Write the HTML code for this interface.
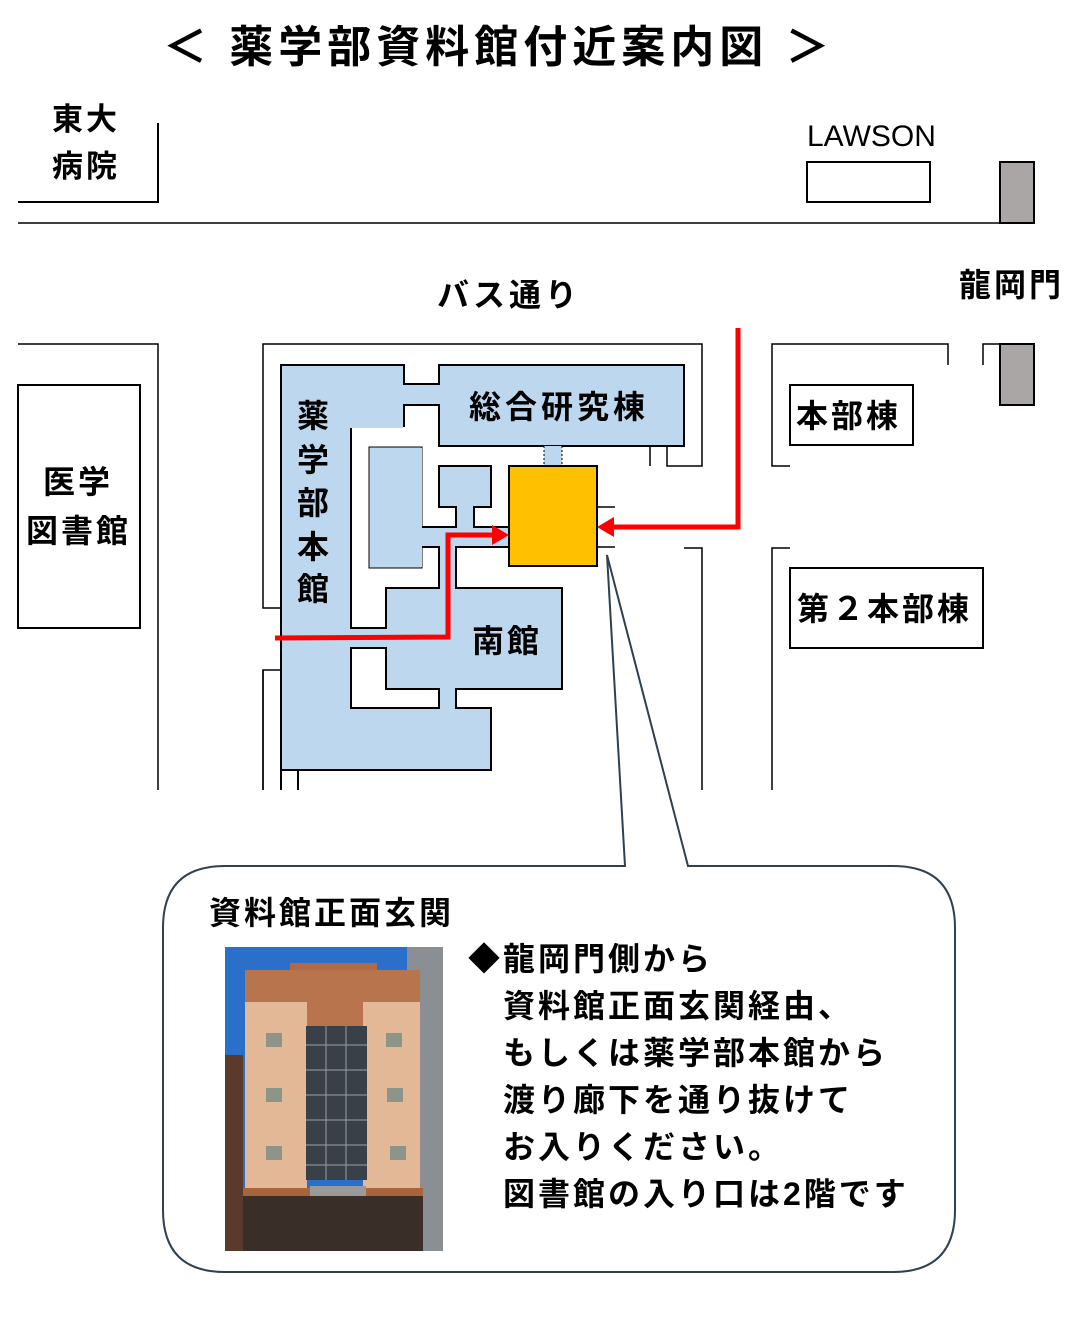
<!DOCTYPE html>
<html><head><meta charset="utf-8"><style>
body{margin:0;background:#fff;width:1090px;height:1319px;overflow:hidden}
svg{display:block}
text{font-family:"Liberation Sans","Noto Sans CJK JP",sans-serif;fill:#000}
.b{letter-spacing:3px}
</style></head><body>
<svg width="1090" height="1319" viewBox="0 0 1090 1319" xmlns="http://www.w3.org/2000/svg">
<text x="163" y="62" font-size="44" font-weight="bold" style="letter-spacing:5px">＜ 薬学部資料館付近案内図 ＞</text>
<g class="b">
<text x="52" y="130" font-size="31" font-weight="bold">東大</text>
<text x="52" y="177" font-size="31" font-weight="bold">病院</text>
</g>
<polyline points="158,123 158,202 18,202" fill="none" stroke="#000" stroke-width="2"/>
<line x1="18" y1="223" x2="1000" y2="223" stroke="#000" stroke-width="1.5"/>
<text x="807" y="146" font-size="30">LAWSON</text>
<rect x="807" y="162" width="123" height="40" fill="#fff" stroke="#000" stroke-width="2"/>
<rect x="1000" y="162" width="34" height="61" fill="#aaa6a6" stroke="#000" stroke-width="2"/>
<text x="437" y="306" font-size="32" font-weight="bold" style="letter-spacing:4px">バス通り</text>
<text x="959" y="296" font-size="32" font-weight="bold" class="b">龍岡門</text>
<polyline points="18,344 158,344 158,790" fill="none" stroke="#000" stroke-width="1.5"/>
<rect x="18" y="385" width="122" height="243" fill="#fff" stroke="#000" stroke-width="2"/>
<text x="43" y="493" font-size="32" font-weight="bold" class="b">医学</text>
<text x="26" y="542" font-size="32" font-weight="bold" class="b">図書館</text>
<polyline points="790,466 772,466 772,344 948,344 948,365" fill="none" stroke="#000" stroke-width="1.5"/>
<polyline points="983,365 983,344 1000,344" fill="none" stroke="#000" stroke-width="1.5"/>
<rect x="1000" y="344" width="34" height="61" fill="#aaa6a6" stroke="#000" stroke-width="2"/>
<rect x="790" y="385" width="123" height="60" fill="#fff" stroke="#000" stroke-width="2"/>
<text x="796" y="427" font-size="32" font-weight="bold" class="b">本部棟</text>
<polyline points="790,548 772,548 772,790" fill="none" stroke="#000" stroke-width="1.5"/>
<rect x="790" y="568" width="193" height="80" fill="#fff" stroke="#000" stroke-width="2"/>
<text x="797" y="620" font-size="32" font-weight="bold" class="b">第２本部棟</text>
<polyline points="281,608 263,608 263,344 702,344 702,466 667,466 667,446" fill="none" stroke="#000" stroke-width="1.5"/>
<polyline points="281,670 263,670 263,790" fill="none" stroke="#000" stroke-width="1.5"/>
<polyline points="650,446 650,466" fill="none" stroke="#000" stroke-width="1.5"/>
<polyline points="684,548 702,548 702,790" fill="none" stroke="#000" stroke-width="1.5"/>
<g fill="#bdd7ee" stroke="#000" stroke-width="2">
<rect x="281" y="365" width="123" height="61"/>
<rect x="439" y="365" width="245" height="81"/>
<rect x="404" y="384" width="35" height="21"/>
<rect x="281" y="426" width="70" height="344"/>
<rect x="439" y="466" width="52" height="41"/>
<rect x="456" y="507" width="18" height="20"/>
<rect x="422" y="527" width="87" height="20"/>
<rect x="439" y="547" width="17" height="41"/>
<rect x="386" y="588" width="176" height="101"/>
<rect x="351" y="628" width="35" height="20"/>
<rect x="439" y="689" width="17" height="19"/>
<rect x="281" y="708" width="210" height="62"/>
</g>
<rect x="369" y="447" width="53" height="121" fill="#bdd7ee" stroke="#000" stroke-width="1"/>
<g fill="#bdd7ee">
<rect x="282" y="366" width="121" height="62"/>
<rect x="403" y="385" width="38" height="19"/>
<rect x="440" y="366" width="243" height="79"/>
<rect x="282" y="420" width="68" height="349"/>
<rect x="440" y="467" width="50" height="39"/>
<rect x="457" y="505" width="16" height="24"/>
<rect x="421" y="528" width="88" height="18"/>
<rect x="440" y="545" width="15" height="45"/>
<rect x="387" y="589" width="174" height="99"/>
<rect x="349" y="629" width="40" height="18"/>
<rect x="440" y="687" width="15" height="23"/>
<rect x="282" y="709" width="208" height="60"/>
<rect x="370" y="448" width="52" height="119"/>
</g>
<line x1="263" y1="790" x2="263" y2="670" stroke="#000" stroke-width="1.5"/>
<line x1="281" y1="670" x2="281" y2="790" stroke="#000" stroke-width="2"/>
<polyline points="298,790 298,770 491,770" fill="none" stroke="#000" stroke-width="2"/>
<line x1="281" y1="608" x2="281" y2="365" stroke="#000" stroke-width="2"/>
<rect x="544" y="446" width="18" height="20" fill="#bdd7ee"/>
<line x1="544" y1="446" x2="544" y2="466" stroke="#000" stroke-width="1" stroke-dasharray="2,2"/>
<line x1="562" y1="446" x2="562" y2="466" stroke="#000" stroke-width="1" stroke-dasharray="2,2"/>
<rect x="509" y="466" width="88" height="100" fill="#ffc000" stroke="#000" stroke-width="2"/>
<line x1="597" y1="507" x2="615" y2="507" stroke="#000" stroke-width="1.5"/>
<line x1="597" y1="547" x2="615" y2="547" stroke="#000" stroke-width="1.5"/>
<g font-size="32" font-weight="bold">
<text x="297" y="427">薬</text><text x="297" y="471">学</text><text x="297" y="514">部</text><text x="297" y="558">本</text><text x="297" y="600">館</text>
</g>
<text x="469" y="418" font-size="32" font-weight="bold" style="letter-spacing:4px">総合研究棟</text>
<text x="472" y="652" font-size="32" font-weight="bold" class="b">南館</text>
<polyline points="738,328 738,527 612,527" fill="none" stroke="#f00" stroke-width="5"/>
<polygon points="597,527 614,517 614,537" fill="#f00"/>
<polyline points="275,638 448,637 448,535 494,535" fill="none" stroke="#f00" stroke-width="5"/>
<polygon points="509,535 492,525 492,545" fill="#f00"/>
<path d="M225,866 L625,866 L607,555 L688,866 L893,866 Q955,866 955,928 L955,1210 Q955,1272 893,1272 L225,1272 Q163,1272 163,1210 L163,928 Q163,866 225,866 Z" fill="#fff" stroke="#2f4050" stroke-width="2"/>
<text x="209" y="924" font-size="32" font-weight="bold" class="b">資料館正面玄関</text>
<g font-size="32" font-weight="bold" class="b">
<text x="468" y="970">◆龍岡門側から</text>
<text x="503" y="1017">資料館正面玄関経由、</text>
<text x="503" y="1064">もしくは薬学部本館から</text>
<text x="503" y="1111">渡り廊下を通り抜けて</text>
<text x="503" y="1158">お入りください。</text>
<text x="503" y="1205">図書館の入り口は2階です</text>
</g>
<g>
<rect x="225" y="947" width="218" height="304" fill="#2a6fc9"/>
<rect x="225" y="1055" width="18" height="196" fill="#5a3a2a"/>
<rect x="407" y="947" width="36" height="304" fill="#8a8f94"/>
<rect x="290" y="963" width="87" height="12" fill="#b06a45"/>
<rect x="245" y="970" width="175" height="32" fill="#b8744d"/>
<rect x="245" y="1002" width="62" height="188" fill="#e3b896"/>
<rect x="363" y="1002" width="57" height="188" fill="#e3b896"/>
<rect x="307" y="1002" width="56" height="24" fill="#b8744d"/>
<rect x="306" y="1026" width="61" height="154" fill="#3a4048"/>
<g stroke="#9aa0a8" stroke-width="1">
<line x1="326" y1="1026" x2="326" y2="1180"/><line x1="346" y1="1026" x2="346" y2="1180"/>
<line x1="306" y1="1045" x2="367" y2="1045"/><line x1="306" y1="1070" x2="367" y2="1070"/>
<line x1="306" y1="1095" x2="367" y2="1095"/><line x1="306" y1="1120" x2="367" y2="1120"/>
<line x1="306" y1="1145" x2="367" y2="1145"/><line x1="306" y1="1165" x2="367" y2="1165"/>
</g>
<g fill="#8d9588"><rect x="266" y="1033" width="16" height="14"/><rect x="386" y="1033" width="16" height="14"/>
<rect x="266" y="1088" width="16" height="14"/><rect x="387" y="1088" width="16" height="14"/>
<rect x="266" y="1146" width="16" height="14"/><rect x="390" y="1146" width="16" height="14"/></g>
<rect x="243" y="1188" width="180" height="8" fill="#a8643c"/>
<rect x="243" y="1196" width="180" height="55" fill="#3a2e28"/>
<rect x="310" y="1186" width="56" height="10" fill="#9a9a9a"/>
</g>
</svg>
</body></html>
